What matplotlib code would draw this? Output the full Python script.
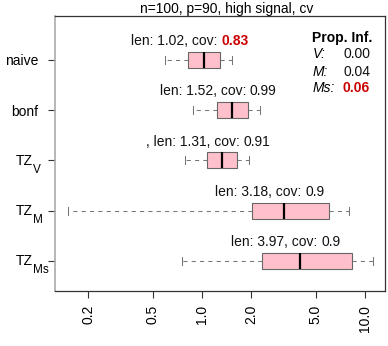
import matplotlib
matplotlib.use("Agg")
import matplotlib.pyplot as plt
from matplotlib.offsetbox import TextArea, HPacker, AnnotationBbox

plt.rcParams['font.family'] = ['Liberation Sans', 'DejaVu Sans']

# ---- data (top to bottom) ----
method_base = ["naive", "bonf", "TZ", "TZ", "TZ"]
method_sub = ["", "", "V", "M", "Ms"]
whisker_lo = [0.59, 0.88, 0.79, 0.150, 0.75]
q1 = [0.82, 1.23, 1.08, 2.03, 2.34]
median = [1.03, 1.53, 1.32, 3.17, 3.98]
q3 = [1.29, 1.92, 1.65, 6.01, 8.32]
whisker_hi = [1.53, 2.26, 1.95, 7.98, 11.2]
len_labels = ["1.02", "1.52", "1.31", "3.18", "3.97"]
cov_labels = ["0.83", "0.99", "0.91", "0.9", "0.9"]
cov_values = [0.83, 0.99, 0.91, 0.90, 0.90]
label_prefix = ["", "", ", ", "", ""]
xticks = [0.2, 0.5, 1.0, 2.0, 5.0, 10.0]
prop_names = ["V", "M", "Ms"]
prop_values = [0.00, 0.04, 0.06]
title = "n=100, p=90, high signal, cv"

RED = "#CC0000"
PX = 0.72  # points per pixel at 100 dpi
W, H = 388, 346
fig = plt.figure(figsize=(W / 100, H / 100), dpi=100)
ax = fig.add_axes([55 / W, 1 - 291 / H, (385 - 55) / W, (291 - 16) / H])

n = len(method_base)
positions = [n - i for i in range(n)]
stats = []
for i in range(n):
    stats.append(dict(med=median[i], q1=q1[i], q3=q3[i],
                      whislo=whisker_lo[i], whishi=whisker_hi[i], fliers=[]))

ax.bxp(stats, positions=positions, vert=False, widths=0.32, capwidths=0.16,
       patch_artist=True, showfliers=False,
       boxprops=dict(facecolor="#FFC0CB", edgecolor="#666666", linewidth=0.8),
       medianprops=dict(color="black", linewidth=1.6),
       whiskerprops=dict(color="#777777", linewidth=0.75, linestyle=(0, (4, 4))),
       capprops=dict(color="#777777", linewidth=0.75))

ax.set_xscale("log")
ax.set_xlim(0.1253, 13.27)
ax.set_ylim(0.4, 5.875)
ax.set_xticks(xticks)
ax.set_xticklabels([f"{v:.1f}" for v in xticks], rotation=90)
ax.xaxis.set_minor_locator(matplotlib.ticker.NullLocator())
ax.set_yticks(positions)
ax.set_yticklabels([b if s == "" else "" for b, s in zip(method_base, method_sub)])
ax.tick_params(axis="both", labelsize=10, length=5, width=0.8, color="#333333")
ax.tick_params(axis="y", pad=7)
ax.tick_params(axis="x", pad=5)
for s in ["top", "right", "bottom"]:
    ax.spines[s].set_color("#333333")
    ax.spines[s].set_linewidth(0.9)
ax.spines["left"].set_color("#aaaaaa")
ax.spines["left"].set_linewidth(1.2)

# subscripted y labels drawn by hand (R plotmath style)
ytr = ax.get_yaxis_transform()
for i in range(n):
    if method_sub[i] == "":
        continue
    ax.annotate(method_base[i], (0, positions[i]), xycoords=ytr,
                xytext=(-22.5 * PX, -4.5 * PX), textcoords="offset points",
                ha="right", va="baseline", fontsize=10, annotation_clip=False)
    ax.annotate(method_sub[i], (0, positions[i]), xycoords=ytr,
                xytext=(-22.3 * PX, -12.4 * PX), textcoords="offset points",
                ha="left", va="baseline", fontsize=8.5, annotation_clip=False)

# annotations above the boxes
for i in range(n):
    t1 = TextArea(f"{label_prefix[i]}len: {len_labels[i]}, cov: ",
                  textprops=dict(fontsize=10, color="#111111"))
    low = cov_values[i] < 0.85
    t2 = TextArea(cov_labels[i],
                  textprops=dict(fontsize=10, color=RED if low else "#111111",
                                 fontweight="bold" if low else "normal"))
    pack = HPacker(children=[t1, t2], sep=0, pad=0, align="baseline")
    ab = AnnotationBbox(pack, (median[i], positions[i]), xybox=(-10, 13.5),
                        xycoords="data", boxcoords="offset points",
                        frameon=False, box_alignment=(0.5, 0.5), pad=0)
    ax.add_artist(ab)

fig.text(227 / W, 1 - 9 / H, title, ha="center", va="center", fontsize=10)

# Prop. Inf. block
fig.text(372 / W, 1 - 38 / H, "Prop. Inf.", ha="right", va="center",
         fontsize=10, fontweight="bold")
rows_y = [54.5, 71.5, 88.5]
for name, val, yy in zip(prop_names, prop_values, rows_y):
    fig.text(313 / W, 1 - yy / H, f"{name}:", ha="left", va="center",
             fontsize=10, style="italic")
    hi = val == max(prop_values)
    fig.text(370 / W, 1 - yy / H, f"{val:.2f}", ha="right", va="center",
             fontsize=10, color=RED if hi else "#111111",
             fontweight="bold" if hi else "normal")

fig.savefig("out.png", dpi=100)
